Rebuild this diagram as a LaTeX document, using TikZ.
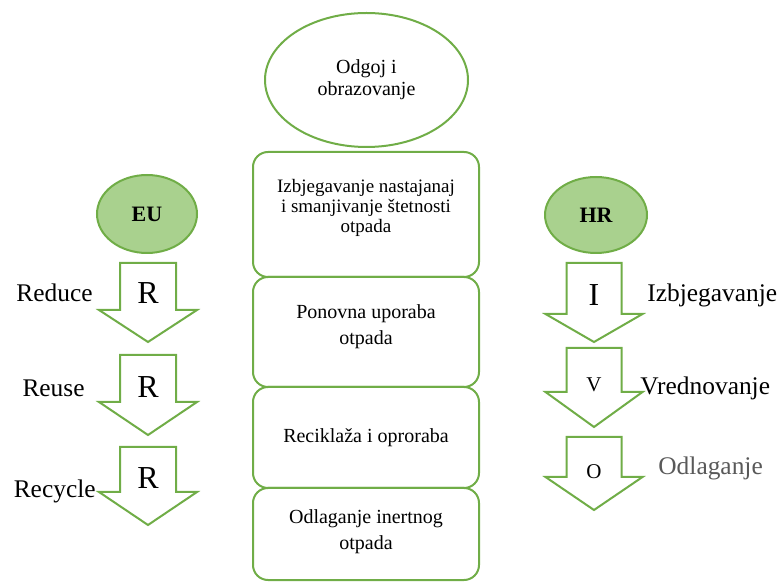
\documentclass[tikz,border=0pt]{standalone}
\usepackage{fontspec}
\setmainfont{Liberation Serif}
\usetikzlibrary{shapes.geometric}

\definecolor{zelena}{HTML}{70AD47}
\definecolor{svzelena}{HTML}{A9D18E}
\definecolor{siva}{HTML}{595959}

\tikzset{
  kutija/.style={draw=zelena, line width=1pt, rounded corners=7.5pt, minimum width=113pt,
    align=center, inner sep=2pt, font=\fontsize{10}{13}\selectfont},
  krug/.style={ellipse, draw=zelena, line width=1pt, inner sep=0pt},
  oznaka/.style={font=\fontsize{12.7}{14}\selectfont, inner sep=0pt},
  slovo/.style={font=\fontsize{16}{18}\selectfont, inner sep=0pt},
  strelica/.style={draw=zelena, line width=1pt, line join=miter, fill=white}
}

% x, vrh, rame, siljak, pola drske, pola glave
\newcommand{\strelicadolje}[6]{%
  \draw[strelica] ({#1-#5},#2) -- ({#1+#5},#2) -- ({#1+#5},#3) -- ({#1+#6},#3)
    -- (#1,#4) -- ({#1-#6},#3) -- ({#1-#5},#3) -- cycle;}

\begin{document}
\begin{tikzpicture}[x=0.5pt, y=-0.5pt]
\useasboundingbox (0,0) rectangle (782,582);

% sredina
\node[krug, minimum width=101.5pt, minimum height=67pt, align=center,
      font=\fontsize{10}{11}\selectfont] (odgoj) at (366.5,80) {Odgoj i\\obrazovanje};
\node[kutija, minimum height=62.5pt, font=\fontsize{9.5}{10}\selectfont] (izbj) at (366,214.5)
      {Izbjegavanje nastajanaj\\i smanjivanje štetnosti\\otpada\\[-1.5pt]};
\node[kutija, minimum height=55pt] (ponovna) at (366,332) {Ponovna uporaba\\otpada\\[-6pt]};
\node[kutija, minimum height=50.5pt] (recikl) at (366,437.5) {Reciklaža i oproraba};
\node[kutija, minimum height=46pt] (odlag) at (366,534) {Odlaganje inertnog\\otpada\\[-9pt]};

% EU
\node[krug, fill=svzelena, minimum width=50pt, minimum height=39pt,
      font=\fontsize{11}{12}\selectfont\bfseries] (eu) at (147,214) {EU};
\strelicadolje{148}{263}{310}{342}{28}{49}
\strelicadolje{148}{355}{402}{435}{28}{49}
\strelicadolje{148}{447}{492}{525}{28}{49}
\node[slovo] (r1) at (148,293) {R};
\node[slovo] (r2) at (148,387) {R};
\node[slovo] (r3) at (148,478) {R};
\node[oznaka, anchor=east] (reduce) at (93,293) {Reduce};
\node[oznaka, anchor=east] (reuse) at (85,388) {Reuse};
\node[oznaka, anchor=east] (recycle) at (96,491) {Recycle};

% HR
\node[krug, fill=svzelena, minimum width=51pt, minimum height=38pt,
      font=\fontsize{11}{12}\selectfont\bfseries] (hr) at (596,215) {HR};
\strelicadolje{594}{263}{314}{342}{27.5}{48.5}
\strelicadolje{594}{348}{392}{427}{27.5}{48.5}
\strelicadolje{594}{437}{477}{510}{27.5}{48.5}
\node[slovo] (ii) at (594,295) {I};
\node[font=\fontsize{10.5}{12}\selectfont, inner sep=0pt] (vv) at (594,385) {V};
\node[font=\fontsize{10.5}{12}\selectfont, inner sep=0pt] (oo) at (594,472) {O};
\node[oznaka, anchor=west] (izbjeg) at (647,295) {Izbjegavanje};
\node[oznaka, anchor=west] (vredn) at (640,388) {Vrednovanje};
\node[oznaka, anchor=west, text=siva] (odlaganje) at (658,468) {Odlaganje};
\end{tikzpicture}
\end{document}
